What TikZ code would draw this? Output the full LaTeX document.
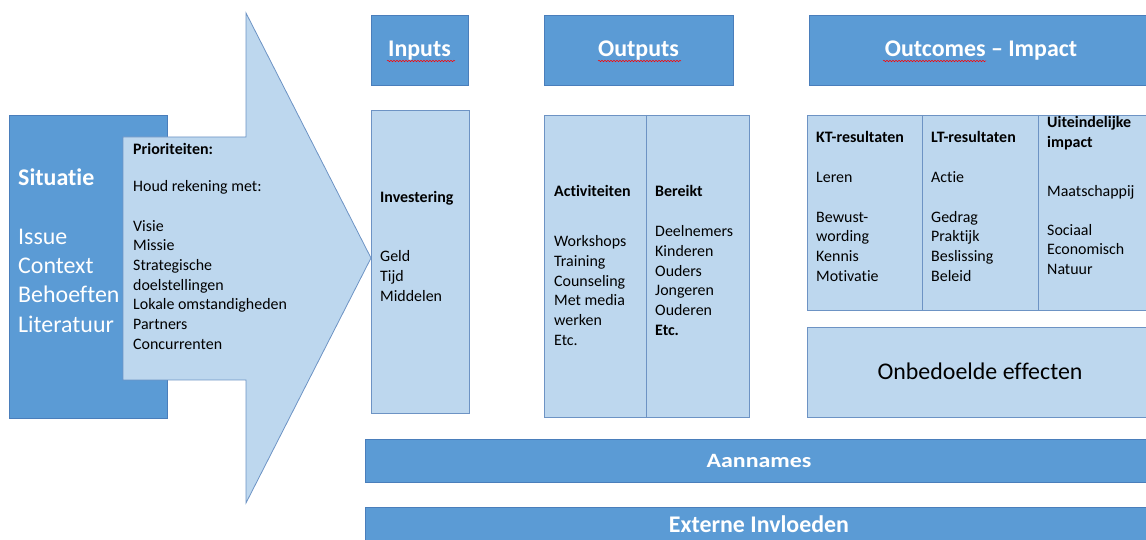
\documentclass[tikz,border=0pt]{standalone}
\usepackage{fontspec}
\setmainfont{Carlito}[Ligatures=NoCommon]
\usetikzlibrary{decorations.pathmorphing}
\definecolor{donker}{HTML}{5B9BD5}
\definecolor{donkerrand}{HTML}{4A7EBB}
\definecolor{licht}{HTML}{BDD7EE}
\definecolor{lichtrand}{HTML}{6D93C4}

\begin{document}
\begin{tikzpicture}[x=1bp,y=-1bp,
		kop/.style={fill=donker,draw=donkerrand,line width=0.8bp},
		vak/.style={fill=licht,draw=lichtrand,line width=0.8bp},
		lijst/.style={anchor=base west,inner sep=0pt,text width=250bp,align=flush left,font=\fontsize{16}{19.7}\selectfont},
		titel/.style={anchor=base,inner sep=0pt,text=white,font=\fontsize{24}{29}\selectfont\bfseries},
		spel/.style={red,line width=0.5bp,decorate,decoration={snake,segment length=3bp,amplitude=0.7bp}}]
		\useasboundingbox (0,0) rectangle (1146,540);
		\clip (0,0) rectangle (1146,540);
		% situatie en pijl
		\draw[kop] (9,115) rectangle (167,418);
		\node[anchor=base west,inner sep=0pt,text=white,text width=200bp,align=flush left,font=\fontsize{24}{29.3}\selectfont] (situatie) at (18,186) {\textbf{Situatie}\\[29.3bp]Issue\\Context\\Behoeften\\Literatuur};
		\draw[vak] (123,137) -- (246,137) -- (246,13) -- (371,258) -- (246,503) -- (246,380) -- (123,380) -- cycle;
		\node[lijst] (prio) at (133,155) {\textbf{Prioriteiten:}};
		\node[lijst] (houd) at (133,192) {Houd rekening met:\\[19.7bp]Visie\\Missie\\Strategische\\doelstellingen\\Lokale omstandigheden\\Partners\\Concurrenten};
		% koppen
		\draw[kop] (371,15) rectangle (468,85);
		\draw[kop] (544,15) rectangle (733,85);
		\draw[kop] (809,15) rectangle (1153,85);
		\node[titel] (inputs) at (419.5,57) {Inputs};
		\node[titel] (outputs) at (638.5,57) {Outputs};
		\node[titel] (outcomes) at (981,57) {Outcomes -- Impact};
		\draw[spel] (387,61) -- (455,61);
		\draw[spel] (598,61) -- (681,61);
		\draw[spel] (883,61) -- (986,61);
		% inputs
		\draw[vak] (371,110) rectangle (469,413);
		\node[lijst] (investering) at (380,203) {\textbf{Investering}};
		\node[lijst] (middelen) at (380,262) {Geld\\Tijd\\Middelen};
		% outputs
		\draw[vak] (544,115) rectangle (749,417);
		\draw[lichtrand,line width=0.8bp] (646,115) -- (646,417);
		\node[lijst] (activiteiten) at (554,197) {\textbf{Activiteiten}};
		\node[lijst] (workshops) at (554,247) {Workshops\\Training\\Counseling\\Met media\\werken\\Etc.};
		\node[lijst] (bereikt) at (655,197) {\textbf{Bereikt}};
		\node[lijst] (deelnemers) at (655,237) {Deelnemers\\Kinderen\\Ouders\\Jongeren\\Ouderen\\\textbf{Etc.}};
		% outcomes
		\draw[vak] (807,115) rectangle (1153,310);
		\draw[lichtrand,line width=0.8bp] (922,115) -- (922,310);
		\draw[lichtrand,line width=0.8bp] (1038,115) -- (1038,310);
		\node[lijst] (kt) at (816,143) {\textbf{KT-resultaten}};
		\node[lijst] (leren) at (816,183) {Leren\\[19.7bp]Bewust-\\wording\\Kennis\\Motivatie};
		\node[lijst] (lt) at (931,143) {\textbf{LT-resultaten}};
		\node[lijst] (actie) at (931,183) {Actie\\[19.7bp]Gedrag\\Praktijk\\Beslissing\\Beleid};
		\node[lijst,text width=100bp] (impact) at (1047,128) {\textbf{Uiteindelijke}\\\textbf{impact}};
		\node[lijst] (maatschappij) at (1047,197) {Maatschappij\\[18.5bp]Sociaal\\Economisch\\Natuur};
		\draw[vak] (807,327) rectangle (1153,417);
		\node[anchor=base,inner sep=0pt,font=\fontsize{24}{29}\selectfont] (onbedoeld) at (980,380) {Onbedoelde effecten};
		% onderste balken
		\draw[kop] (365,439) rectangle (1153,482);
		\node[titel] (aannames) at (759,467) {\scalebox{1}[0.85]{Aannames}};
		\draw[kop] (365,507) rectangle (1153,550);
		\node[titel] (extern) at (759,532) {Externe Invloeden};
		\end{tikzpicture}
\end{document}
